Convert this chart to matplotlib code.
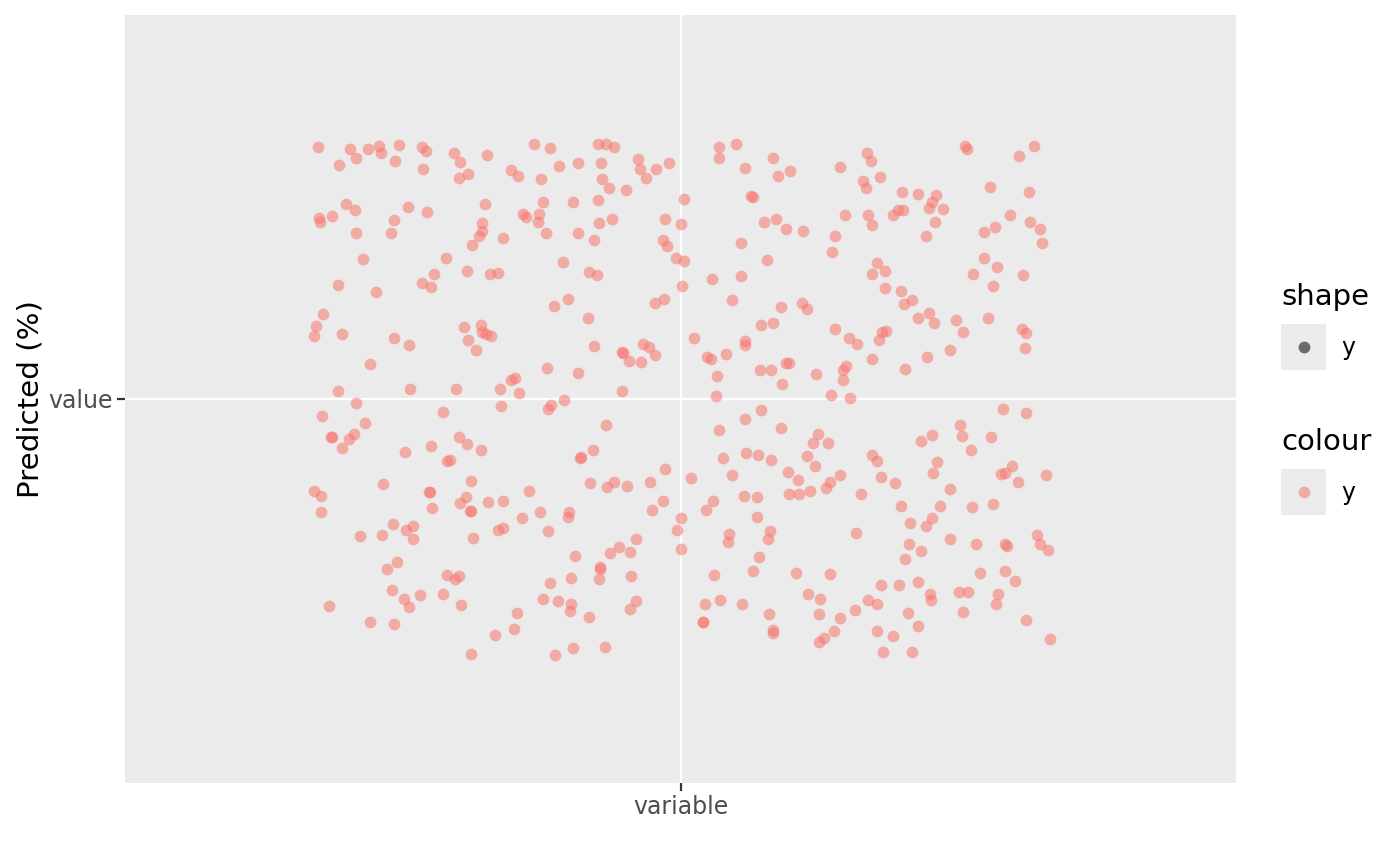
import matplotlib
matplotlib.use("Agg")
import matplotlib.pyplot as plt

x_category = "variable"
y_category = "value"
y_title = "Predicted (%)"
legend_titles = ["shape", "colour"]
legend_level = "y"

# jittered positions, in thousandths of one category step
x_jit = [
    -392, -357, -350, -338, -326, -324, -304, -308, -369, -279, -275, -278, -245, -238,
    -229, -239, -209, -361, -352, -390, -389, -376, -294, -274, -309, -313, -351, -211,
    -214, -214, -218, -225, -343, -253, -266, -231, -206, -197, -370, -329, -279, -269,
    -158, -141, -89, -80, -72, -183, -175, -131, -111, -86, -151, -85, -77, -59, -46,
    -44, -37, -27, -12, -148, -116, -89, -170, -167, -153, -154, -145, -111, -88, -74,
    -93, -192, -17, 1, 4, -19, -15, -5, 4, 2, -127, -99, -90, -121, -137, -28, -18,
    42, 60, 42, 70, 100, 105, 118, 172, 201, 206, 197, 200, 76, 78, 90, 103, 114, 132,
    178, 202, 207, 167, 164, 65, 93, 34, 65, 56, 109, 131, 137, 212, 207,
    307, 309, 382, 366, 215, 239, 257, 276, 272, 268, 284, 235, 240, 230, 275, 265, 334,
    376, 356, 378, 388, 390, 340, 328, 328, 342, 316, 338, 370, 221, 221, 238, 250, 241, 268,
    -386, -394, -396, -366, -309, -293, -234, -216, -214, -210, -205, -229, -221, -335,
    -370, -292, -242, -350, -387, -341, -256, -378, -376, -353, -358, -366, -298, -270,
    -239, -231, -215, -252, -249, -226, -321, -396, -272, -271,
    -100, -93, -63, -62, -56, -41, -34, -28, -43, -144, -111, -183, -179, -195, -174, -63,
    -194, -140, -143, -126, -81, -95, -109, -107, -17, -33, -98, -72, -79, -58, -164,
    15, 87, 100, 70, 70, 29, 33, 49, 39, 86, 98, 114, 117, 110, 146, 167, 182, 191, 207,
    179, 175, 175, 163, 183, 38, 87, 70, 42, 109, 148, 143, 159, 46, 71, 84, 98, 137, 145,
    207, 212, 11, 56, 116, 127, 162, 172,
    257, 274, 298, 305, 332, 369, 373, 372, 218, 222, 214, 266, 291, 242, 348, 373, 302,
    272, 260, 304, 335, 314, 277, 273, 358, 346, 350, 395, 217, 232, 364, 291,
    -388, -388, -268, -238, -232, -227, -226, -208, -310, -322, -346, -296, -289, -289,
    -224, -317, -306, -252, -244, -239, -312, -299, -281, -293, -256, -237, -380, -335,
    -309, -200, -226,
    -192, -152, -171, -120, -121, -197, -192, -143, -31, -19, 0, -4, 0, -48, -66, -76, -55,
    -114, -87, -87, -88, -54, -118, -141, -148, -132, -118, -119, -99, -48, -55, -177, -180,
    -136, -116, -82,
    35, 28, 69, 83, 117, 128, 140, 157, 195, 83, 52, 51, 97, 95, 190, 85, 78, 36, 125, 162,
    138, 151, 202, 212, 27, 43, 66, 96, 150, 188, 172, 24, 24, 100, 100, 166, 155, 150, 212,
    238, 280, 272, 248, 265, 315, 338, 291, 247, 260, 242, 319, 350, 353, 385, 388, 397,
    324, 350, 361, 217, 236, 257, 269, 271, 301, 310, 343, 341, 246, 305, 257, 373, 230,
    219, 250, 399,
]
y_jit = [
    393, 391, 377, 390, 395, 385, 397, 372, 365, 393, 387, 359, 384, 371, 352, 345, 382,
    304, 296, 283, 276, 286, 300, 292, 279, 260, 259, 305, 275, 263, 255, 240, 218, 221,
    195, 200, 196, 197, 178, 167, 182, 175,
    399, 392, 399, 398, 393, 358, 348, 364, 368, 368, 343, 343, 329, 326, 375, 359, 345,
    359, 369, 308, 308, 311, 289, 284, 289, 276, 259, 260, 275, 281, 249, 251, 282, 274,
    313, 249, 239, 220, 215, 176, 214, 199, 193, 156, 145, 150, 156,
    393, 399, 377, 361, 376, 348, 357, 363, 384, 372, 341, 329, 317, 316, 276, 282, 265,
    262, 287, 288, 272, 255, 230, 244, 217, 188, 192, 154, 144, 150, 141, 213, 195,
    395, 390, 395, 380, 347, 323, 321, 318, 308, 299, 297, 296, 296, 287, 277, 255, 332,
    323, 287, 276, 265, 243, 269, 261, 220, 207, 196, 177, 193, 200, 174, 168, 155, 148, 135,
    133, 114, 99, 102, 95, 85, 113, 116, 104, 101, 99, 92, 77, 55, 13, 16, 15, -7, -26,
    -37, -20, -60, -60, -54, -62, -77, -83, -73, -59, -70, -80, -97, -95, -128, -133,
    -143, -145, -146,
    126, 83, 73, 72, 59, 86, 82, 68, 58, 48, 41, 29, 33, 15, 9, 13, -11, -9, -16, -2,
    -40, -80, -92, -90, -109, -129, -132, -130, -137, -136, -143,
    95, 115, 119, 91, 85, 65, 62, 71, 36, 46, 45, 57, 57, 23, 39, 110, 95, 86, 63, 52,
    45, 30, 7, 2, 4, -17, -32, -49, -45, -54, -68, -69, -92, -85, -87, -96, -89, -104,
    -88, -97, -124, -118, -114, -127, -129, -118,
    126, 118, 124, 105, 127, 109, 103, 80, 104, 107, 92, 65, 76, 47, -15, -22, -40, -57,
    -66, -58, -60, -79, -98, -115, -104, -117, -115, -118, -122, -131, -130, -141,
    -152, -176, -170, -162, -153, -175, -175, -161, -195, -212, -214, -205, -199, -218,
    -217, -265, -255, -275, -282, -277, -298, -312, -307, -325, -304, -322, -323, -349,
    -352, -368, -398,
    -159, -176, -186, -177, -185, -204, -202, -206, -173, -160, -186, -204, -235, -218,
    -231, -241, -239, -246, -263, -266, -282, -277, -279, -287, -312, -315, -321, -332,
    -340, -315, -328, -335, -360, -400, -389, -388,
    -159, -173, -151, -153, -148, -148, -143, -139, -149, -184, -211, -224, -207, -219,
    -210, -247, -269, -275, -272, -273, -305, -312, -314, -320, -321, -314, -321, -336,
    -336, -329, -342, -348, -348, -361, -365, -362, -374, -379, -363,
    -167, -167, -186, -193, -199, -169, -164, -219, -227, -237, -250, -227, -227, -230,
    -213, -226, -236, -272, -268, -285, -291, -291, -286, -305, -314, -302, -301, -304,
    -321, -335, -333, -355, -346, -370, -396, -395, -375,
]

W, H = 1400, 866
PANEL = "#EBEBEB"
POINT = "#F8766D"

fig = plt.figure(figsize=(W / 200, H / 200), dpi=200)
ax = fig.add_axes([125 / W, (H - 783) / H, 1111 / W, 768 / H])
ax.set_facecolor(PANEL)
for s in ax.spines.values():
    s.set_visible(False)

xs = [v / 1000 for v in x_jit]
ys = [v / 1000 for v in y_jit]
ax.scatter(xs, ys, s=18, color=POINT, alpha=0.55, linewidths=0, zorder=3)

ax.set_xlim(-0.6, 0.6)
ax.set_ylim(-0.6, 0.6)
ax.set_xticks([0])
ax.set_xticklabels([x_category])
ax.set_yticks([0])
ax.set_yticklabels([y_category])
ax.set_axisbelow(True)
ax.grid(True, color="white", lw=0.8)
ax.tick_params(length=2.75, width=0.8, color="#333333", labelcolor="#4D4D4D",
               labelsize=8.5, pad=1.6)
ax.set_ylabel(y_title, fontsize=10.6, color="black", labelpad=1.5)

# legends drawn as ggplot-style key boxes
key_tops = [324, 469]
title_y = [297, 442]
key_colors = ["black", POINT]
for title, ty, top, kc in zip(legend_titles, title_y, key_tops, key_colors):
    fig.text(1281 / W, 1 - ty / H, title, fontsize=10.5, ha="left", va="center")
    kax = fig.add_axes([1281 / W, (H - top - 46) / H, 45 / W, 46 / H])
    kax.set_facecolor(PANEL)
    kax.set_xlim(-1, 1)
    kax.set_ylim(-1, 1)
    kax.set_xticks([])
    kax.set_yticks([])
    for s in kax.spines.values():
        s.set_visible(False)
    kax.scatter([0], [0], s=18, color=kc, alpha=0.55, linewidths=0)
    fig.text(1341 / W, 1 - (top + 24) / H, legend_level, fontsize=8.5,
             ha="left", va="center", color="black")

fig.savefig("out.png", dpi=200, facecolor="white")
